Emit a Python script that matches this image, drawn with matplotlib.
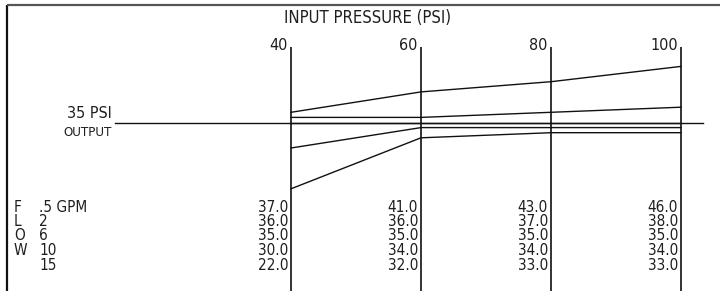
import matplotlib
matplotlib.use('Agg')
import matplotlib.pyplot as plt
from matplotlib import transforms

# --- data ---
pressures = [40, 60, 80, 100]
pressure_labels = ['40', '60', '80', '100']
flow_labels = ['.5 GPM', '2', '6', '10', '15']
flow_word = ['F', 'L', 'O', 'W', '']
outputs = [
    [37.0, 41.0, 43.0, 46.0],
    [36.0, 36.0, 37.0, 38.0],
    [35.0, 35.0, 35.0, 35.0],
    [30.0, 34.0, 34.0, 34.0],
    [22.0, 32.0, 33.0, 33.0],
]
set_pressure = 35

W, H = 722, 291
plt.rcParams['font.family'] = ['DejaVu Sans']
plt.rcParams['font.stretch'] = 'condensed'
INK = '#1e1e1e'

fig = plt.figure(figsize=(W / 100, H / 100), dpi=100)
ax = fig.add_axes([0, 0, 1, 1])
ax.set_axis_off()
# x: 40 -> px 291, 100 -> px 681 ; y: 35 -> px 122.5, 5.1 px per psi
xs = 390 / 60
ax.set_xlim(40 - 291 / xs, 40 + (W - 291) / xs)
ys = 5.1
ax.set_ylim(set_pressure - (H - 122.5) / ys, set_pressure + 122.5 / ys)


def fx(px):
    return px / W


def fy(py):
    return 1 - py / H


# frame (left + top)
ax.plot([fx(7), fx(7)], [0, fy(5)], transform=ax.transAxes, color='#111111', lw=1.6, solid_capstyle='butt')
ax.plot([fx(7), fx(720)], [fy(5), fy(5)], transform=ax.transAxes, color='#555555', lw=1.6, solid_capstyle='butt')

ax.text(fx(368), fy(18), 'INPUT PRESSURE (PSI)', transform=ax.transAxes,
        ha='center', va='center', fontsize=12, color=INK)

mixed = transforms.blended_transform_factory(ax.transData, ax.transAxes)
ax.vlines(pressures, 0, fy(47), transform=mixed, color='#333333', lw=1.4)
for p, lab in zip(pressures, pressure_labels):
    ax.text(p - 0.5, fy(45), lab, transform=mixed, ha='right', va='center',
            fontsize=11.5, color=INK)

# 35 psi output reference line
ax.axhline(set_pressure, xmin=fx(115), xmax=fx(703), color='#111111', lw=1.0)
ax.text(fx(112), fy(114), '35 PSI', transform=ax.transAxes, ha='right', va='center',
        fontsize=11.5, color=INK)
ax.text(fx(88), fy(133), 'OUTPUT', transform=ax.transAxes, ha='center', va='center',
        fontsize=9.5, color=INK)

for row in outputs:
    ax.plot(pressures, row, color='#111111', lw=1.0)

# flow table
row_y = [207, 221.5, 236, 250.5, 265]
for i, (lab, letter, row) in enumerate(zip(flow_labels, flow_word, outputs)):
    ax.text(fx(14), fy(row_y[i]), letter, transform=ax.transAxes, ha='left', va='center',
            fontsize=11, color=INK)
    ax.text(fx(39), fy(row_y[i]), lab, transform=ax.transAxes, ha='left', va='center',
            fontsize=11, color=INK)
    for p, v in zip(pressures, row):
        ax.text(p - 0.45, fy(row_y[i]), f'{v:.1f}', transform=mixed, ha='right', va='center',
                fontsize=11, color=INK)

fig.savefig('out.png', dpi=100, facecolor='white')
